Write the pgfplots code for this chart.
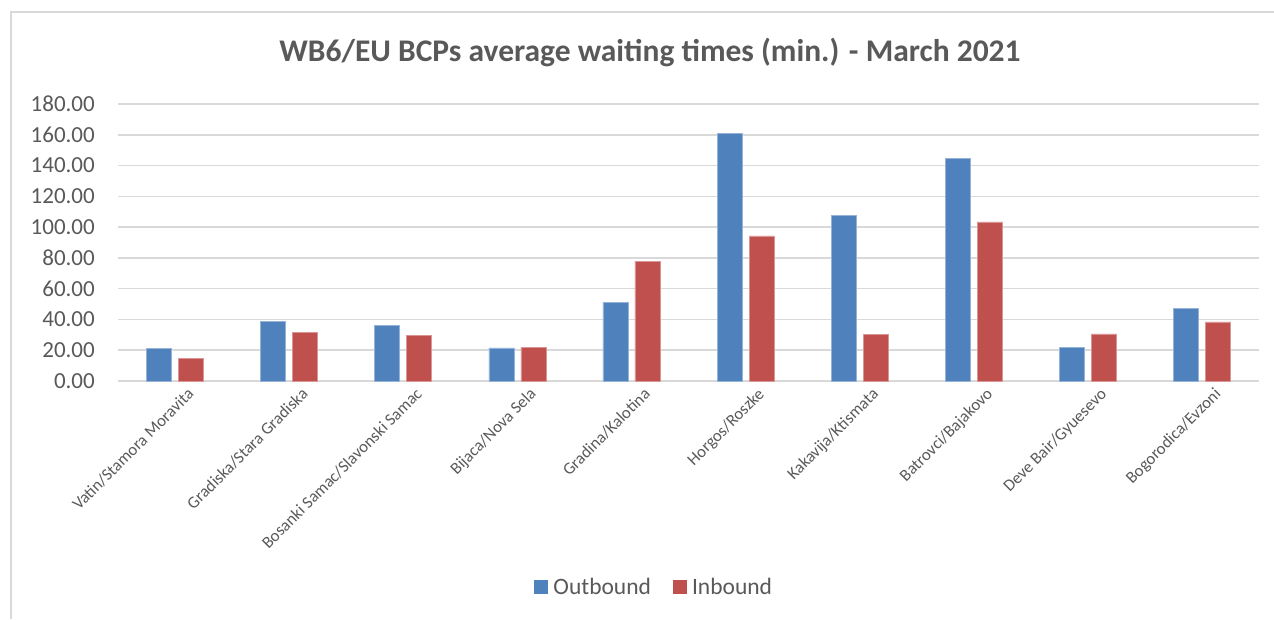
\documentclass[border=0pt]{standalone}
\usepackage{pgfplots}
\pgfplotsset{compat=1.18}
\usepackage{fontspec}
\setmainfont{Carlito}
\definecolor{txt}{HTML}{595959}
\definecolor{gridc}{HTML}{D9D9D9}
\definecolor{outb}{HTML}{4F81BD}
\definecolor{inb}{HTML}{C0504D}
\begin{document}
\begin{tikzpicture}
\useasboundingbox (0,0) rectangle (1274pt,-619pt);
\draw[gridc, line width=1.5pt] (11pt,-619pt) -- (11pt,-12pt) -- (1274pt,-12pt);
\node[font=\fontsize{31.5}{36}\selectfont\bfseries, text=txt] at (650pt,-52pt) {WB6/EU BCPs average waiting times (min.) - March 2021};
\begin{axis}[
  at={(118pt,-381pt)}, anchor=south west,
  scale only axis, width=1141pt, height=277pt,
  xmin=-0.5, xmax=9.5, ymin=0, ymax=180,
  ytick={0,20,...,180},
  xtick={0,...,9},
  xticklabels={Vatin/Stamora Moravita, Gradiska/Stara Gradiska, Bosanki Samac/Slavonski Samac, Bijaca/Nova Sela, Gradina/Kalotina, Horgos/Roszke, Kakavija/Ktismata, Batrovci/Bajakovo, Deve Bair/Gyuesevo, Bogorodica/Evzoni},
  ybar=7pt, bar width=25pt,
  axis line style={draw=none},
  major tick length=0pt,
  ymajorgrids, grid style={gridc, line width=1.5pt},
  /pgf/number format/assume math mode=true,
  /pgf/number format/.cd, fixed, fixed zerofill, precision=2, /pgfplots/.cd,
  yticklabel style={font=\fontsize{23}{27}\selectfont, text=txt, anchor=east, inner sep=0pt, xshift=-23pt},
  xticklabel style={font=\fontsize{16.8}{20}\selectfont, text=txt, rotate=45, anchor=north east, inner sep=0pt, yshift=-12pt, xshift=4pt},
  legend style={at={(0.47,-0.744)}, anchor=center, draw=none, legend columns=2,
    font=\fontsize{23.5}{27}\selectfont, text=txt,
    /tikz/every odd column/.append style={column sep=3pt},
    /tikz/every even column/.append style={column sep=20pt}},
  legend image code/.code={\fill[#1, draw=none] (0pt,-7pt) rectangle (14pt,7pt);},
]
\addplot[fill=outb, draw=outb!60!white, line width=0.6pt] coordinates {
(0,21.0) (1,38.8) (2,36.2) (3,21.5) (4,51.0) (5,161.1) (6,107.8) (7,144.7) (8,21.9) (9,47.1)};
\addplot[fill=inb, draw=inb!60!white, line width=0.6pt] coordinates {
(0,14.5) (1,31.7) (2,29.7) (3,21.9) (4,77.9) (5,94.3) (6,30.1) (7,103.4) (8,30.6) (9,38.4)};
\legend{Outbound, Inbound}
\end{axis}
\end{tikzpicture}
\end{document}
